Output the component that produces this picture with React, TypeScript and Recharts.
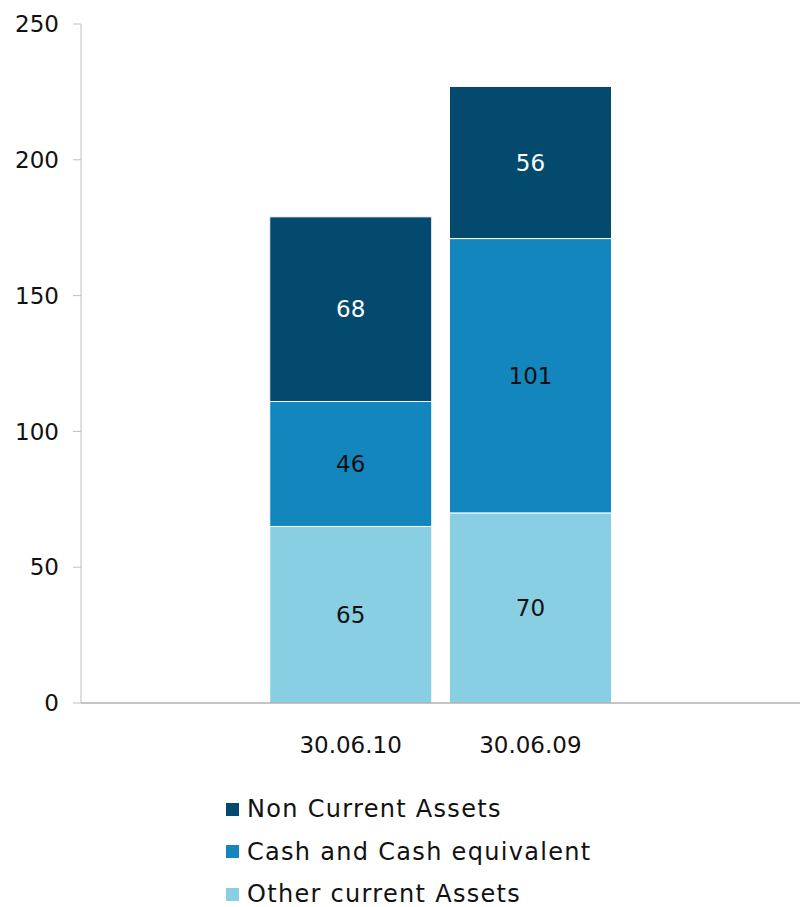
import React from "react";
import { BarChart, Bar, XAxis, YAxis, Legend, LabelList } from "recharts";

// dates, with empty slots either side like the original sheet
const periods = ["", "30.06.10", "30.06.09", ""];
const slotIndex = [0.5, 1.5, 2.5, 3.5];
const otherCurrent = [null, 65, 70, null];
const cashEquivalent = [null, 46, 101, null];
const nonCurrent = [null, 68, 56, null];
const yTicks = [0, 50, 100, 150, 200, 250];
const slotTicks = [0, 1, 2, 3, 4];

const series = [
  { key: "other", name: "Other current Assets", color: "#88cfe3", text: "#111" },
  { key: "cash", name: "Cash and Cash equivalent", color: "#1387bd", text: "#111" },
  { key: "nonCurrent", name: "Non Current Assets", color: "#034a6e", text: "#fff" },
];

const data = periods.map((period, i) => ({
  period,
  idx: slotIndex[i],
  other: otherCurrent[i],
  cash: cashEquivalent[i],
  nonCurrent: nonCurrent[i],
}));

const FONT = "'DejaVu Sans', sans-serif";

export default function App() {
  return (
    <div style={{ position: "absolute", top: 0, left: 0, width: 800, height: 907 }}>
      <BarChart
        width={800}
        height={907}
        data={data}
        margin={{ top: 24, right: 0, left: 0, bottom: 136 }}
        barCategoryGap="5%"
        style={{ fontFamily: FONT }}
      >
        {/* frame axis: line plus ticks between the slots */}
        <XAxis
          xAxisId={0}
          type="number"
          dataKey="idx"
          domain={[0, 4]}
          ticks={slotTicks}
          tick={false}
          tickSize={8}
          height={8}
          stroke="#8c8c8c"
          tickLine={{ stroke: "#bfbfbf" }}
        />
        <XAxis
          xAxisId={1}
          dataKey="period"
          axisLine={false}
          tickLine={false}
          height={60}
          tickMargin={20}
          tick={{ fill: "#111", fontSize: 23 }}
          interval={0}
        />
        <YAxis
          domain={[0, 250]}
          ticks={yTicks}
          width={81}
          tickSize={8}
          tickMargin={14}
          stroke="#bfbfbf"
          tick={{ fill: "#111", fontSize: 23 }}
        />
        {series.map((s) => (
          <Bar
            key={s.key}
            xAxisId={1}
            dataKey={s.key}
            name={s.name}
            stackId="a"
            fill={s.color}
            stroke="#fff"
            strokeWidth={1}
            isAnimationActive={false}
          >
            <LabelList dataKey={s.key} position="center" fill={s.text} fontSize={23} />
          </Bar>
        ))}
        <Legend
          layout="vertical"
          align="center"
          verticalAlign="middle"
          wrapperStyle={{ top: 788, left: 226, width: 460 }}
          content={() => (
            <div style={{ fontFamily: FONT }}>
              {[...series].reverse().map((s) => (
                <div
                  key={s.key}
                  style={{
                    display: "flex",
                    alignItems: "center",
                    height: 42.5,
                    fontSize: 24,
                    letterSpacing: 1.3,
                    color: "#111",
                  }}
                >
                  <span style={{ width: 13, height: 13, background: s.color, marginRight: 8 }} />
                  {s.name}
                </div>
              ))}
            </div>
          )}
        />
      </BarChart>
    </div>
  );
}
